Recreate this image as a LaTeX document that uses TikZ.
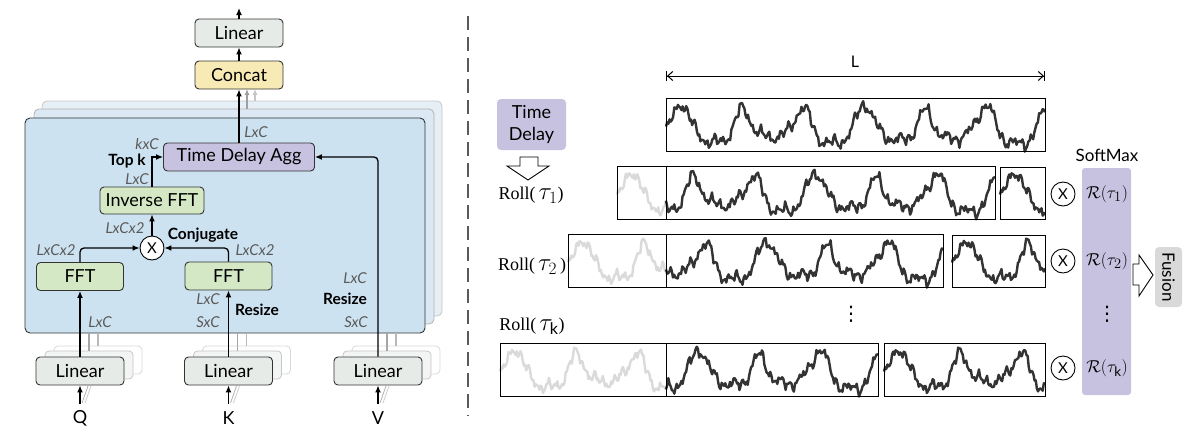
\documentclass[tikz,border=0pt]{standalone}
\usepackage{fontspec}
\setmainfont{Lato}
\newfontfamily\rollfont{Liberation Serif}
\newfontfamily\dejavu{DejaVu Sans}
\usetikzlibrary{arrows.meta,calc}
\definecolor{panelA}{HTML}{CDE2F0}
\definecolor{panelB}{HTML}{DCE8F3}
\definecolor{panelC}{HTML}{E7EFF6}
\definecolor{linfill}{HTML}{E6EBE8}
\definecolor{catfill}{HTML}{F8EAB4}
\definecolor{purp}{HTML}{C8C2E1}
\definecolor{grn}{HTML}{D5E8C5}
\definecolor{lbl}{HTML}{5A5A5A}
\definecolor{sigc}{HTML}{333333}
\definecolor{sigg}{HTML}{DADADA}
\definecolor{fus}{HTML}{D9D9D9}
\pgfmathdeclarefunction{sig}{1}{\pgfmathparse{1.25*(7*exp(1.4*sin(mod(#1,61)/61*360))-11.5+3*sin(mod(#1,97)/97*360+40)+3*sin(mod(#1,23)/23*360+15)+2.3*sin(mod(#1,9.3)/9.3*360+30)+1.4*sin(mod(#1,6.7)/6.7*360+10)+1.7*sin(mod(#1,4.1)/4.1*360+70)+1.1*sin(mod(#1,2.7)/2.7*360))}}
\tikzset{
  blk/.style={draw=black!80, line width=0.9pt, rounded corners=4pt, minimum height=28pt, inner sep=0pt, font=\fontsize{18}{21}\selectfont},
  arr/.style={line width=1.3pt, -{Latex[length=7pt,width=6pt]}},
  dim/.style={lbl, font=\fontsize{15}{17}\selectfont\itshape, inner sep=0pt},
  bl/.style={font=\fontsize{15.5}{18}\selectfont\bfseries, inner sep=0pt},
  mulc/.style={circle, draw=black, line width=0.9pt, fill=white, minimum size=24pt, inner sep=0pt, font=\fontsize{15}{17}\selectfont},
  sigline/.style={sigc, line width=2.4pt, line join=round},
  sigfaint/.style={sigg, line width=2.4pt, line join=round},
  sbox/.style={draw=black, line width=1pt},
  rollt/.style={font=\fontsize{18}{21}\selectfont\rollfont, inner sep=0pt},
  rlab/.style={font=\fontsize{19}{22}\selectfont, inner sep=0pt},
  dots/.style={font=\fontsize{20}{22}\selectfont\dejavu, inner sep=0pt},
}
\begin{document}
\begin{tikzpicture}[x=1pt,y=-1pt]
\useasboundingbox (0,0) rectangle (1188,432);
% ---------- left: stacked panels ----------
\draw[gray!45, fill=panelC, rounded corners=5pt, line width=0.8pt] (42,101) rectangle (442,316);
\draw[gray!60, fill=panelB, rounded corners=5pt, line width=0.8pt] (34,109) rectangle (434,324);
\draw[black!80, fill=panelA, rounded corners=5pt, line width=0.9pt] (25,118) rectangle (425,333);
% gray concat arrows from back panels
\draw[line width=1.1pt, gray!75, -{Latex[length=6pt,width=5pt]}] (247,109) -- (247,89);
\draw[line width=1.1pt, gray!45, -{Latex[length=6pt,width=5pt]}] (255,101) -- (255,89);
% ---------- back copies of linear boxes ----------
\foreach \cx in {80,228.5,378}{
  \draw[gray!30, fill=white, rounded corners=4pt, line width=0.8pt] ({\cx-44+18},{357-11}) rectangle ({\cx+44+18},{385-11});
  \draw[gray!45, fill=linfill!50, rounded corners=4pt, line width=0.8pt] ({\cx-44+9},{357-6}) rectangle ({\cx+44+9},{385-6});
  \draw[gray!70, line width=1.2pt] ({\cx+9},333) -- ({\cx+9},351);
  \draw[gray!55, line width=1.2pt] ({\cx+18},333) -- ({\cx+18},346);
  \draw[gray!60, line width=0.8pt] ({\cx+2},403) -- ({\cx+8},386);
  \draw[gray!40, line width=0.8pt] ({\cx+5},403) -- ({\cx+11},386);
}
% ---------- nodes ----------
\node[blk, fill=linfill, minimum width=88pt] (lin) at (239,33) {Linear};
\node[blk, fill=catfill, minimum width=88pt] (concat) at (239,75) {Concat};
\node[blk, fill=purp, minimum width=151pt] (tda) at (239,157) {Time Delay Agg};
\node[blk, fill=grn, minimum width=104pt, minimum height=27pt] (ifft) at (152,200.5) {Inverse FFT};
\node[mulc] (mul) at (152,248) {X};
\node[blk, fill=grn, minimum width=87pt] (fftq) at (80,276.5) {FFT};
\node[blk, fill=grn, minimum width=87pt] (fftk) at (228.5,276) {FFT};
\node[blk, fill=linfill, minimum width=88pt] (linq) at (80,371) {Linear};
\node[blk, fill=linfill, minimum width=88pt] (link) at (228.5,371) {Linear};
\node[blk, fill=linfill, minimum width=88pt] (linv) at (378,371) {Linear};
\node[font=\fontsize{18}{20}\selectfont, inner sep=0pt] (q) at (80,418) {Q};
\node[font=\fontsize{18}{20}\selectfont, inner sep=0pt] (k) at (228.5,418) {K};
\node[font=\fontsize{18}{20}\selectfont, inner sep=0pt] (v) at (378,418) {V};
\coordinate (out) at (239,8);
\coordinate (qin) at (80,404);
\coordinate (kin) at (228.5,404);
\coordinate (vin) at (378,404);
% ---------- connectors ----------
\draw[arr] (lin.north) -- (out);
\draw[arr] (concat.north) -- (lin.south);
\draw[arr] (tda.north) -- (concat.south);
\draw[arr] (ifft.north) |- (tda.west);
\draw[arr] (mul.north) -- (ifft.south);
\draw[arr, rounded corners=4pt] (fftq.north) |- (mul.west);
\draw[arr, rounded corners=4pt] (fftk.north) |- (mul.east);
\draw[arr] (linq.north) -- (fftq.south);
\draw[arr] (link.north) -- (fftk.south);
\draw[arr, rounded corners=4pt] (linv.north) |- (tda.east);
\draw[arr] (qin) -- (linq.south);
\draw[arr] (kin) -- (link.south);
\draw[arr] (vin) -- (linv.south);
% ---------- labels ----------
\node[dim] at (256,132) {LxC};
\node[dim] at (147,144) {kxC};
\node[bl] at (127,161) {Top k};
\node[dim] at (137,179) {LxC};
\node[dim] at (125,228) {LxCx2};
\node[bl] at (203,235) {Conjugate};
\node[dim] at (56,250) {LxCx2};
\node[dim] at (255,250) {LxCx2};
\node[dim] at (100,322) {LxC};
\node[dim] at (208,299) {LxC};
\node[dim] at (208,322) {SxC};
\node[bl] at (257,310) {Resize};
\node[dim] at (355,278) {LxC};
\node[bl] at (345,299) {Resize};
\node[dim] at (356,322) {SxC};
% ---------- separator ----------
\draw[black!65, line width=1.6pt, dash pattern=on 14pt off 7pt] (468,16) -- (468,416);
% ---------- right side ----------
\coordinate (la) at (666,76);
\coordinate (lb) at (1045,76);
\draw[line width=1pt, {Bar[width=10pt]Straight Barb[length=5pt,width=9pt]}-{Straight Barb[length=5pt,width=9pt]Bar[width=10pt]}] (la) -- (lb);
\node[font=\fontsize{16}{18}\selectfont, inner sep=0pt] at (855,62) {L};
\node[fill=purp, rounded corners=4pt, minimum width=69pt, minimum height=51pt, inner sep=0pt, align=center, font=\fontsize{18}{22}\selectfont] (td) at (531.5,124.5) {Time\\Delay};
\draw[line width=0.9pt, fill=white] (520,157) -- (538,157) -- (538,166) -- (549,166) -- (528,180) -- (507,166) -- (520,166) -- cycle;
\node[rollt] at (531,195) {Roll(\,{\fontsize{23}{24}\selectfont$\tau_1$})};
\node[rollt] at (532,266) {Roll(\,{\fontsize{23}{24}\selectfont$\tau_2$}\,)};
\node[rollt] at (532,326) {Roll(\,{\fontsize{23}{24}\selectfont$\tau_{\mathrm{k}}$})};
% row 0
\draw[sigline] plot[domain=0:379, samples=320] ({666+\x},{128-sig(\x)});
\draw[sbox] (666,98) rectangle (1045,151);
% row 1, tau=49
\draw[sigfaint] plot[domain=0:49, samples=45] ({617+\x},{196-sig(\x)});
\draw[sigline] plot[domain=49:378, samples=280] ({617+\x},{196-sig(\x)});
\draw[sigline] plot[domain=0:45, samples=40] ({1000+\x},{196-sig(\x)});
\draw[sbox] (617,166) rectangle (995,219);
\draw[sbox] (666,166) -- (666,219);
\draw[sbox] (1000,167) rectangle (1045,219);
% row 2, tau=98
\draw[sigfaint] plot[domain=0:98, samples=85] ({568+\x},{264-sig(\x)});
\draw[sigline] plot[domain=98:375, samples=240] ({568+\x},{264-sig(\x)});
\draw[sigline] plot[domain=0:93, samples=80] ({952+\x},{264-sig(\x)});
\draw[sbox] (568,234) rectangle (943,287);
\draw[sbox] (666,234) -- (666,287);
\draw[sbox] (952,235) rectangle (1045,287);
% row k, tau=166
\draw[sigfaint] plot[domain=0:166, samples=140] ({500+\x},{373-sig(\x)});
\draw[sigline] plot[domain=166:378, samples=180] ({500+\x},{373-sig(\x)});
\draw[sigline] plot[domain=0:161, samples=140] ({884+\x},{373-sig(\x)});
\draw[sbox] (500,343) rectangle (878,396);
\draw[sbox] (666,343) -- (666,396);
\draw[sbox] (884,343) rectangle (1045,396);
\node[dots] at (851,314) {⋮};
% softmax
\node[font=\fontsize{17}{20}\selectfont, inner sep=0pt] at (1107,155) {SoftMax};
\fill[purp, rounded corners=3pt] (1082,168) rectangle (1131,395);
\node[mulc] (m1) at (1063,194) {X};
\node[mulc] (m2) at (1063,261) {X};
\node[mulc] (mk) at (1063,368) {X};
\node[rlab] at (1107,194) {$\mathcal{R}(\tau_1)$};
\node[rlab] at (1107,261) {$\mathcal{R}(\tau_2)$};
\node[rlab] at (1107,368) {$\mathcal{R}(\tau_{\mathrm{k}})$};
\node[dots] at (1107,314) {⋮};
\draw[line width=0.9pt, fill=white] (1133,264) -- (1139,264) -- (1139,255) -- (1153,275) -- (1139,296) -- (1139,285) -- (1133,285) -- cycle;
\node[fill=fus, rounded corners=4pt, minimum width=60pt, minimum height=27pt, inner sep=0pt, rotate=-90, font=\fontsize{17}{20}\selectfont] (fusion) at (1168.5,277) {Fusion};
\end{tikzpicture}
\end{document}
